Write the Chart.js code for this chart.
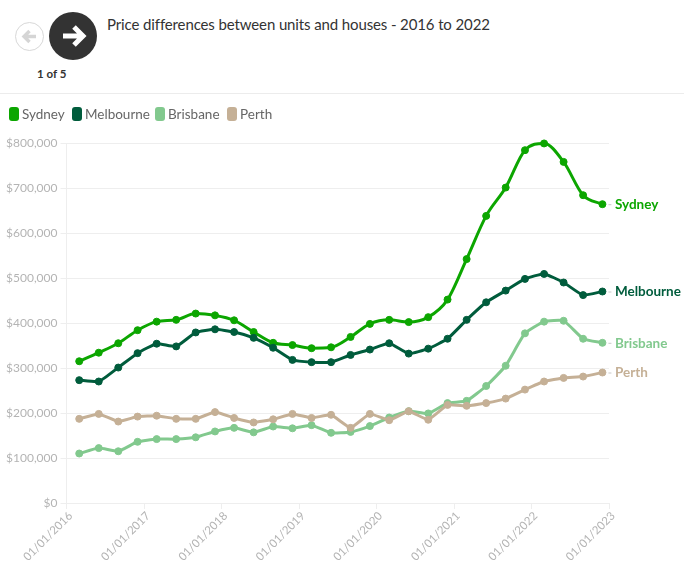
<!DOCTYPE html>
<html>
<head>
<meta charset="utf-8">
<title>Price differences between units and houses - 2016 to 2022</title>
<script src="https://cdn.jsdelivr.net/npm/chart.js@4/dist/chart.umd.min.js"></script>
<style>
    html, body { margin: 0; padding: 0; background: #fff; overflow: hidden; }
    body { width: 684px; height: 571px; position: relative; font-family: Lato, "Noto Sans", sans-serif; color: #333; }
    .back { position: absolute; left: 15px; top: 22px; width: 27px; height: 27px; border: 1px solid #d8d8d8; border-radius: 50%; background: #fff; }
    .next { position: absolute; left: 49px; top: 12px; width: 48px; height: 48px; border-radius: 50%; background: #333; }
    .back svg, .next svg { display: block; }
    .count { position: absolute; left: 37px; top: 67px; font-size: 11.5px; font-weight: 700; }
    .title { position: absolute; left: 107px; top: 14px; font-size: 15px; letter-spacing: -0.12px; line-height: 20px; white-space: nowrap; }
    .rule { position: absolute; left: 0; top: 93px; width: 684px; height: 1px; background: #ececec; }
    #chart { position: absolute; left: 0; top: 95px; }
    #legend { position: absolute; left: 9px; top: 107px; height: 14px; font-size: 13.5px; line-height: 14px; color: #666; z-index: 1; }
    #legend span { position: absolute; top: 0; white-space: nowrap; }
    #legend i { position: absolute; top: 0; width: 10px; height: 14px; border-radius: 3px; }
</style>
</head>
<body>
<div class="back"><svg width="27" height="27" viewBox="0 0 27 27"><path d="M20 13.5H8M13.5 8l-5.5 5.5 5.5 5.5" fill="none" stroke="#d5d5d5" stroke-width="3.4"/></svg></div>
<div class="next"><svg width="48" height="48" viewBox="0 0 48 48"><path d="M14 24H33M25 15l9 9-9 9" fill="none" stroke="#fff" stroke-width="5"/></svg></div>
<div class="count">1 of 5</div>
<div class="title">Price differences between units and houses - 2016 to 2022</div>
<div class="rule"></div>
<div id="legend"></div>
<canvas id="chart" width="684" height="476"></canvas>

<script>
var quarters = [
    '2016-03-01', '2016-06-01', '2016-09-01', '2016-12-01',
    '2017-03-01', '2017-06-01', '2017-09-01', '2017-12-01',
    '2018-03-01', '2018-06-01', '2018-09-01', '2018-12-01',
    '2019-03-01', '2019-06-01', '2019-09-01', '2019-12-01',
    '2020-03-01', '2020-06-01', '2020-09-01', '2020-12-01',
    '2021-03-01', '2021-06-01', '2021-09-01', '2021-12-01',
    '2022-03-01', '2022-06-01', '2022-09-01', '2022-12-01'
];
var sydney = [315000, 334000, 355000, 384000, 403000, 407000, 421000, 417000, 406000, 380000, 356000, 351000, 344000, 346000, 369000, 398000, 407000, 402000, 413000, 452000, 542000, 638000, 701000, 784000, 799000, 758000, 684000, 664000];
var melbourne = [273000, 270000, 301000, 333000, 354000, 348000, 379000, 386000, 380000, 367000, 345000, 318000, 313000, 313000, 329000, 341000, 355000, 332000, 343000, 365000, 407000, 446000, 472000, 498000, 509000, 490000, 462000, 470000];
var brisbane = [110000, 122000, 115000, 136000, 142000, 142000, 146000, 159000, 167000, 157000, 170000, 166000, 173000, 156000, 158000, 171000, 190000, 204000, 199000, 222000, 227000, 260000, 305000, 377000, 403000, 405000, 365000, 356000];
var perth = [187000, 198000, 181000, 192000, 194000, 187000, 187000, 202000, 189000, 179000, 186000, 198000, 189000, 196000, 167000, 198000, 184000, 204000, 185000, 218000, 216000, 222000, 232000, 252000, 270000, 278000, 281000, 290000];
var xTickDates = ['2016-01-01', '2017-01-01', '2018-01-01', '2019-01-01', '2020-01-01', '2021-01-01', '2022-01-01', '2023-01-01'];
var xTickLabels = ['01/01/2016', '01/01/2017', '01/01/2018', '01/01/2019', '01/01/2020', '01/01/2021', '01/01/2022', '01/01/2023'];

var fontName = 'Lato, "Noto Sans", sans-serif';
var gridColor = '#eeeeee';
var tickColor = '#b4b4b4';
var legendLefts = [0, 63, 146, 218];

function makeSeries(name, values, color, order, tension, mode) {
    return {
        label: name,
        data: values.map(function (v, i) { return { x: Date.parse(quarters[i]), y: v }; }),
        borderColor: color,
        backgroundColor: color,
        pointBackgroundColor: color,
        pointBorderColor: color,
        borderWidth: 3,
        pointRadius: 3.5,
        pointBorderWidth: 1,
        tension: tension,
        cubicInterpolationMode: mode,
        order: order,
        clip: false
    };
}

// names next to the last point of every line
var endLabels = {
    id: 'endLabels',
    afterDatasetsDraw: function (chart) {
        var ctx = chart.ctx;
        ctx.save();
        ctx.font = '700 13.5px ' + fontName;
        ctx.textBaseline = 'middle';
        chart.data.datasets.forEach(function (ds, i) {
            var pts = chart.getDatasetMeta(i).data;
            var last = pts[pts.length - 1];
            ctx.strokeStyle = '#c8c8c8';
            ctx.lineWidth = 1;
            ctx.beginPath();
            ctx.moveTo(last.x + 6, last.y + 0.5);
            ctx.lineTo(last.x + 9, last.y + 0.5);
            ctx.stroke();
            ctx.fillStyle = ds.borderColor;
            ctx.fillText(ds.label, last.x + 12.5, last.y + 0.5);
        });
        ctx.restore();
    }
};

var myChart = new Chart(document.getElementById('chart').getContext('2d'), {
    type: 'line',
    plugins: [endLabels],
    data: {
        datasets: [
            makeSeries('Sydney', sydney, '#0ca600', 4, 0.4, 'monotone'),
            makeSeries('Melbourne', melbourne, '#005c3c', 3, 0.15, 'default'),
            makeSeries('Brisbane', brisbane, '#82c98e', 2, 0.15, 'default'),
            makeSeries('Perth', perth, '#c5b096', 1, 0.1, 'default')
        ]
    },
    options: {
        responsive: false,
        animation: false,
        layout: { padding: { left: 0, right: 75, top: 48, bottom: 0 } },
        plugins: {
            tooltip: { enabled: false },
            legend: { display: false }
        },
        scales: {
            x: {
                type: 'linear',
                min: Date.parse(xTickDates[0]),
                max: Date.parse(xTickDates[xTickDates.length - 1]),
                afterBuildTicks: function (axis) {
                    axis.ticks = xTickDates.map(function (d) { return { value: Date.parse(d) }; });
                },
                afterFit: function (axis) { axis.height = 68; },
                grid: { drawOnChartArea: false, color: gridColor, tickLength: 6 },
                border: { color: gridColor },
                ticks: {
                    autoSkip: false,
                    minRotation: 45,
                    maxRotation: 45,
                    padding: 0,
                    labelOffset: 4,
                    color: tickColor,
                    font: { family: fontName, size: 11.5 },
                    callback: function (value) {
                        return xTickLabels[xTickDates.map(Date.parse).indexOf(value)];
                    }
                }
            },
            y: {
                min: 0,
                max: 800000,
                afterFit: function (axis) { axis.width = 66.5; },
                grid: { color: gridColor, tickLength: 6 },
                border: { color: gridColor },
                ticks: {
                    stepSize: 100000,
                    color: tickColor,
                    padding: 3,
                    font: { family: fontName, size: 12 },
                    callback: function (value) { return '$' + value.toLocaleString('en-US'); }
                }
            }
        }
    }
});

// legend row
myChart.data.datasets.forEach(function (ds, i) {
    var box = document.createElement('i');
    box.style.left = legendLefts[i] + 'px';
    box.style.background = ds.borderColor;
    var name = document.createElement('span');
    name.style.left = (legendLefts[i] + 13) + 'px';
    name.textContent = ds.label;
    document.getElementById('legend').appendChild(box);
    document.getElementById('legend').appendChild(name);
});
</script>
</body>
</html>
